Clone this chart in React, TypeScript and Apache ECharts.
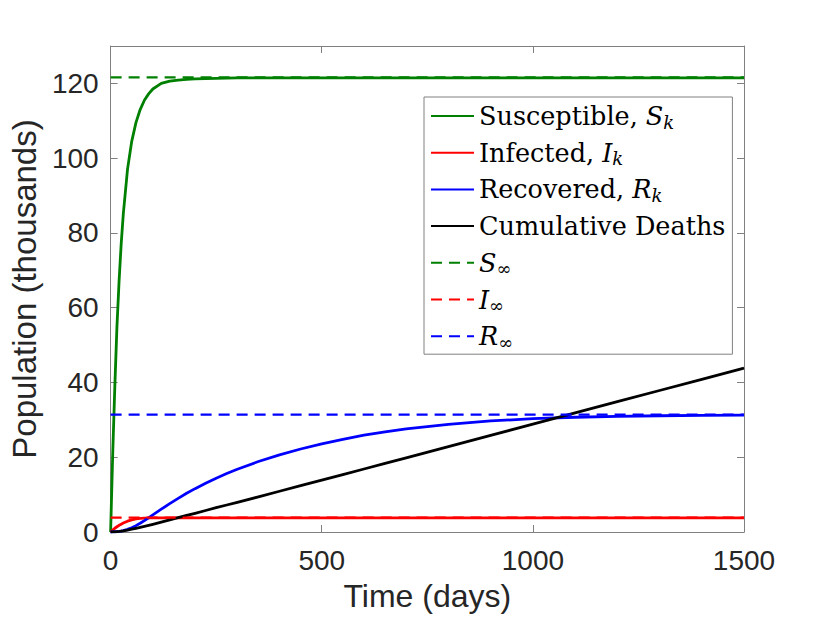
import React, { useEffect, useRef } from "react";
import * as echarts from "echarts";

// Time points (days)
const days = [0, 5, 10, 15, 20, 25, 30, 40, 50, 60, 70, 80, 90, 100, 120, 140, 160, 180, 200, 225, 250, 275, 300, 350, 400, 450, 500, 550, 600, 650, 700, 800, 900, 1000, 1100, 1200, 1300, 1400, 1500];
// Population (thousands)
const susceptible = [0, 21, 39, 55, 67, 77, 85, 97, 104.5, 109.5, 113, 115.5, 117.2, 118.5, 120, 120.6, 120.9, 121.1, 121.2, 121.3, 121.35, 121.4, 121.45, 121.5, 121.5, 121.5, 121.5, 121.5, 121.5, 121.5, 121.5, 121.5, 121.5, 121.5, 121.5, 121.5, 121.5, 121.5, 121.5];
const infected = [0, 0.5, 1.0, 1.4, 1.8, 2.1, 2.4, 2.9, 3.25, 3.5, 3.65, 3.73, 3.76, 3.78, 3.8, 3.8, 3.8, 3.8, 3.8, 3.8, 3.8, 3.8, 3.8, 3.8, 3.8, 3.8, 3.8, 3.8, 3.8, 3.8, 3.8, 3.8, 3.8, 3.8, 3.8, 3.8, 3.8, 3.8, 3.8];
const recovered = [0, 0.03, 0.07, 0.12, 0.18, 0.26, 0.36, 0.7, 1.15, 1.7, 2.35, 3.05, 3.8, 4.6, 6.1, 7.6, 9.0, 10.35, 11.6, 13.05, 14.4, 15.65, 16.8, 18.85, 20.65, 22.2, 23.6, 24.8, 25.9, 26.8, 27.6, 28.8, 29.7, 30.3, 30.7, 30.95, 31.1, 31.2, 31.25];
const deaths = [0, 0.02, 0.05, 0.1, 0.15, 0.22, 0.3, 0.5, 0.75, 1.0, 1.25, 1.5, 1.77, 2.05, 2.65, 3.25, 3.85, 4.42, 5.0, 5.75, 6.5, 7.22, 7.95, 9.4, 10.9, 12.4, 13.85, 15.35, 16.85, 18.35, 19.85, 22.85, 25.85, 28.85, 31.85, 34.85, 37.85, 40.85, 43.85];
// Equilibrium values
const sInf = 121.6;
const iInf = 3.85;
const rInf = 31.4;

const seriesNames = ["Susceptible, S_k", "Infected, I_k", "Recovered, R_k", "Cumulative Deaths", "S_inf", "I_inf", "R_inf"];
const legendRich: Record<string, string> = {
  "Susceptible, S_k": "Susceptible, {it|S}{sub|k}",
  "Infected, I_k": "Infected, {it|I}{sub|k}",
  "Recovered, R_k": "Recovered, {it|R}{sub|k}",
  "Cumulative Deaths": "Cumulative Deaths",
  "S_inf": "{it|S}{subr|∞}",
  "I_inf": "{it|I}{subr|∞}",
  "R_inf": "{it|R}{subr|∞}",
};

const GREEN = "#008000";
const RED = "#ff0000";
const BLUE = "#0000ff";
const BLACK = "#000000";
const AXIS = "#808080";
const TEXT = "#262626";
const SANS = "'Liberation Sans', Arial, Helvetica, sans-serif";
const SERIF = "'DejaVu Serif', serif";

function pairs(v: number[]) {
  return days.map((d, i) => [d, v[i]]);
}
function flat(v: number) {
  return [[days[0], v], [days[days.length - 1], v]];
}

export default function App() {
  const ref = useRef<HTMLDivElement>(null);
  useEffect(() => {
    if (!ref.current) return;
    const chart = echarts.init(ref.current, undefined, { renderer: "svg" });
    const tickStyle = { show: true, inside: true, length: 7, lineStyle: { color: AXIS, width: 1 } };
    const lineStyleAxis = { show: true, onZero: false, lineStyle: { color: AXIS, width: 1 } };
    const solid = (name: string, data: number[], color: string) => ({
      name, type: "line", data: pairs(data), symbol: "none", showSymbol: false,
      lineStyle: { color, width: 2.8, type: "solid", join: "round" }, itemStyle: { color }, z: 3,
    });
    const dashed = (name: string, v: number, color: string) => ({
      name, type: "line", data: flat(v), symbol: "none", showSymbol: false,
      lineStyle: { color, width: 2.4, type: [11, 7] }, itemStyle: { color }, z: 4,
    });
    const fmt = (v: number) => String(v);
    chart.setOption({
      animation: false,
      backgroundColor: "#ffffff",
      grid: { left: 107, right: 78, top: 46, bottom: 83, containLabel: false },
      xAxis: [
        {
          type: "value", min: 0, max: 1500, interval: 500, position: "bottom",
          name: "Time (days)", nameLocation: "middle", nameGap: 48,
          nameTextStyle: { fontFamily: SANS, fontSize: 32, color: TEXT },
          axisLine: lineStyleAxis, axisTick: tickStyle, splitLine: { show: false },
          axisLabel: { fontFamily: SANS, fontSize: 28, color: TEXT, margin: 14, formatter: fmt },
        },
        {
          type: "value", min: 0, max: 1500, interval: 500, position: "top",
          axisLine: lineStyleAxis, axisTick: tickStyle, splitLine: { show: false },
          axisLabel: { show: false },
        },
      ],
      yAxis: [
        {
          type: "value", min: 0, max: 130, interval: 20, position: "left",
          name: "Population (thousands)", nameLocation: "middle", nameGap: 60,
          nameTextStyle: { fontFamily: SANS, fontSize: 33, color: TEXT },
          axisLine: lineStyleAxis, axisTick: tickStyle, splitLine: { show: false },
          axisLabel: { fontFamily: SANS, fontSize: 28, color: TEXT, margin: 12, showMaxLabel: false, formatter: fmt },
        },
        {
          type: "value", min: 0, max: 130, interval: 20, position: "right",
          axisLine: lineStyleAxis, axisTick: tickStyle, splitLine: { show: false },
          axisLabel: { show: false },
        },
      ],
      legend: {
        orient: "vertical", left: 424, top: 97,
        itemWidth: 43, itemHeight: 14, itemGap: 6.7,
        padding: [4, 7, 3, 6],
        backgroundColor: "#ffffff", borderColor: AXIS, borderWidth: 1,
        itemStyle: { opacity: 0, borderWidth: 0 },
        data: seriesNames,
        formatter: (name: string) => legendRich[name] || name,
        textStyle: {
          fontFamily: SERIF, fontSize: 25.5, color: BLACK, lineHeight: 30,
          rich: {
            it: { fontFamily: SERIF, fontStyle: "italic", fontSize: 25.5, color: BLACK, lineHeight: 30 },
            sub: { fontFamily: SERIF, fontStyle: "italic", fontSize: 18, color: BLACK, lineHeight: 18, verticalAlign: "bottom" },
            subr: { fontFamily: SERIF, fontSize: 18, color: BLACK, lineHeight: 18, verticalAlign: "bottom" },
          },
        },
      },
      series: [
        solid(seriesNames[0], susceptible, GREEN),
        solid(seriesNames[1], infected, RED),
        solid(seriesNames[2], recovered, BLUE),
        solid(seriesNames[3], deaths, BLACK),
        dashed(seriesNames[4], sInf, GREEN),
        dashed(seriesNames[5], iInf, RED),
        dashed(seriesNames[6], rInf, BLUE),
      ],
    });
    return () => chart.dispose();
  }, []);
  return <div ref={ref} style={{ position: "fixed", left: 0, top: 0, width: 822, height: 617 }} />;
}
